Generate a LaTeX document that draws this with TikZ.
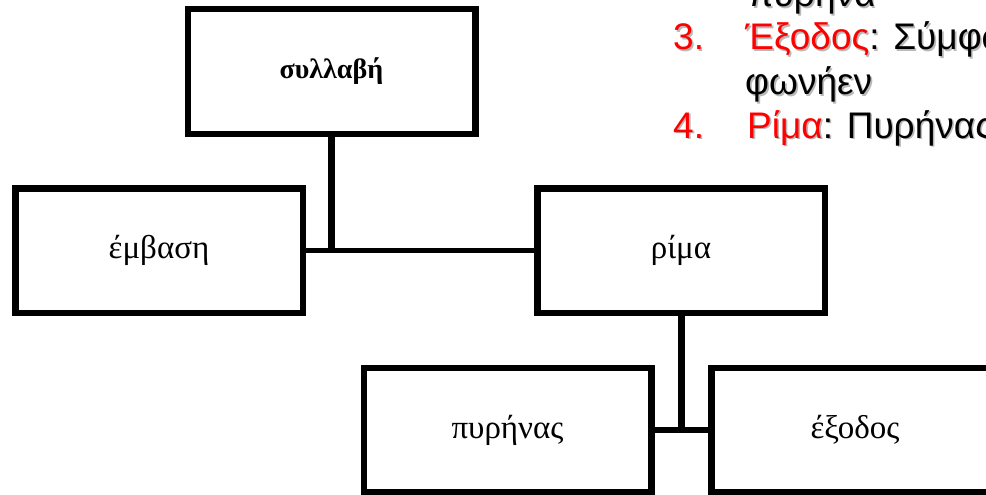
\documentclass[tikz,border=0pt]{standalone}
\usepackage{fontspec}
\setmainfont{Liberation Serif}
\newfontfamily\listfont{Liberation Sans}
\definecolor{itemred}{RGB}{255,0,0}
\definecolor{shadowgray}{RGB}{185,185,185}
% text with a soft drop shadow offset down and to the right
\newcommand{\shtext}[2]{\rlap{\hspace{1.6pt}\raisebox{-1.6pt}{\color{shadowgray}#2}}{\color{#1}#2}}

\begin{document}
\begin{tikzpicture}[x=1pt,y=-1pt,
  box/.style={draw, line width=6.5pt, minimum width=287.5pt, minimum height=124.5pt,
    inner sep=0pt, font=\fontsize{33}{38}\selectfont},
  vlink/.style={draw, line width=7pt},
  hlink/.style={draw, line width=5.5pt},
  listline/.style={anchor=base west, inner sep=0pt, font=\listfont\fontsize{37}{44}\selectfont}]
\useasboundingbox (0,0) rectangle (986,495);
\clip (0,0) rectangle (986,495);

% tree of boxes
\node[box] (syl) at (331.5,71.5) {\fontsize{28}{32}\selectfont\bfseries συλλαβή};
\node[box] (emb) at (159,250.5) {έμβαση};
\node[box] (rim) at (681,250.5) {ρίμα};
\node[box] (pyr) at (507.5,430) {πυρήνας};
\node[box] (exo) at (855,430) {έξοδος};

% connectors
\coordinate (j1) at (syl.south |- emb.east);
\coordinate (j2) at (rim.south |- pyr.east);
\path[hlink] (emb.east) -- (rim.west);
\path[vlink] (syl.south) -- (j1);
\path[hlink] (pyr.east) -- (exo.west);
\path[vlink] (rim.south) -- (j2);

% numbered list at top right
\node[listline] (l0) at (748,7) {\shtext{black}{πυρήνα}};
\node[listline] (n3) at (673,50) {\shtext{itemred}{3.}};
\node[listline] (l3) at (745,50) {\shtext{itemred}{Έξοδος}\shtext{black}{: Σύμφωνα}};
\node[listline] (l3b) at (745,95) {\shtext{black}{φωνήεν}};
\node[listline] (n4) at (673,138) {\shtext{itemred}{4.}};
\node[listline] (l4) at (747,138) {\shtext{itemred}{Ρίμα}\shtext{black}{: Πυρήνας}};
\end{tikzpicture}
\end{document}
